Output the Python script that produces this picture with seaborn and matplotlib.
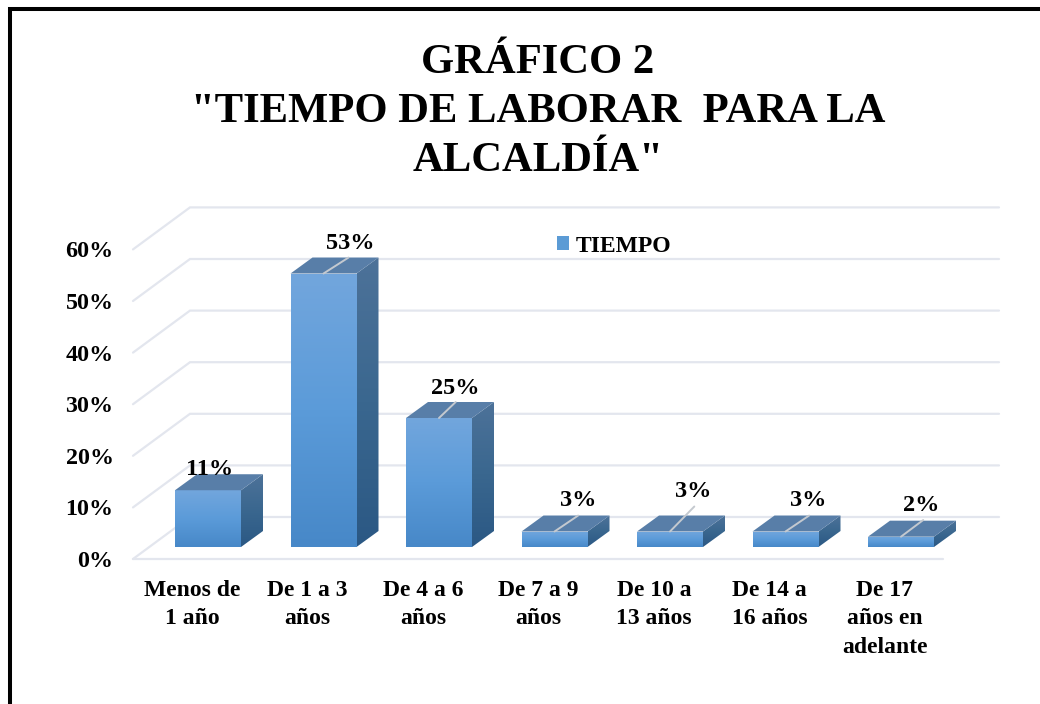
import numpy as np
import seaborn as sns
import matplotlib.pyplot as plt
from matplotlib.colors import LinearSegmentedColormap
from matplotlib.lines import Line2D
from matplotlib.patches import Polygon

categories = [
    "Menos de\n1 año",
    "De 1 a 3\naños",
    "De 4 a 6\naños",
    "De 7 a 9\naños",
    "De 10 a\n13 años",
    "De 14 a\n16 años",
    "De 17\naños en\nadelante",
]
values = [11, 53, 25, 3, 3, 3, 2]
y_ticks = [0, 10, 20, 30, 40, 50, 60]
series_name = "TIEMPO"
title = 'GRÁFICO 2\n"TIEMPO DE LABORAR  PARA LA\nALCALDÍA"'

# label offsets from the top of each bar, in points
label_offsets = [(1, 15), (19.5, 21.5), (12, 21.5), (17, 22.5), (17, 28.5), (16, 22.5), (14.5, 22.5)]
# end of the small leader line on the bar top, in points (None = no line)
leader_ends = [None, (18, 11.5), (12, 11.5), (17, 11.5), (17.5, 18), (17, 11.5), (16, 12)]

sns.set_style("white")
plt.rcParams["font.family"] = ["Liberation Serif", "DejaVu Serif"]
plt.rcParams["font.weight"] = "bold"
plt.rcParams["text.color"] = "black"
plt.rcParams["xtick.color"] = "black"
plt.rcParams["ytick.color"] = "black"

W, H = 1040, 704
fig = plt.figure(figsize=(W / 100, H / 100), dpi=100)

# plot box in pixels of the picture
left, right, top, bottom = 133, 999, 208, 559
ax = fig.add_axes([left / W, 1 - bottom / H, (right - left) / W, (bottom - top) / H])

px_x = 115.5  # pixels per category
px_y = 5.16  # pixels per percent
xlim = ((left - 208) / px_x, (right - 208) / px_x)
ylim = ((547 - bottom) / px_y, (547 - top) / px_y)

sns.barplot(
    x=list(range(len(values))),
    y=values,
    native_scale=True,
    width=66 / px_x,
    color="#5b9bd5",
    saturation=1,
    linewidth=0,
    label=series_name,
    ax=ax,
    zorder=3,
)

# walls of the fake 3D box
wall_front = (547 - bottom) / px_y
wall_back = (547 - 517) / px_y
back_x0 = (190 - 208) / px_x
front_x1 = (943 - 208) / px_x
grid_color = "#e3e6ee"
for v in y_ticks:
    ax.plot(
        [xlim[0], back_x0, xlim[1]],
        [v + wall_front, v + wall_back, v + wall_back],
        color=grid_color,
        lw=1.6,
        zorder=1,
        solid_joinstyle="miter",
        clip_on=False,
    )
ax.plot(
    [xlim[0], front_x1],
    [wall_front, wall_front],
    color=grid_color,
    lw=1.6,
    zorder=1,
    clip_on=False,
)

front_cmap = LinearSegmentedColormap.from_list("front", ["#72a6dd", "#5b9bd9", "#4788c8"])
side_cmap = LinearSegmentedColormap.from_list("side", ["#4d7299", "#3a678f", "#2b5884"])
gradient = np.linspace(0, 1, 128)[:, None]
depth_x = 22 / px_x
depth_y = 16 / px_y


def fill_gradient(patch, cmap, extent, zorder):
    ax.add_patch(patch)
    im = ax.imshow(gradient, extent=extent, cmap=cmap, aspect="auto", zorder=zorder)
    im.set_clip_path(patch)


for bar in list(ax.patches):
    x0 = bar.get_x()
    x1 = x0 + bar.get_width()
    h = bar.get_height()

    front = Polygon([(x0, 0), (x1, 0), (x1, h), (x0, h)], fc="none", ec="none")
    fill_gradient(front, front_cmap, (x0, x1, 0, h), 4)

    side = Polygon(
        [(x1, 0), (x1 + depth_x, depth_y), (x1 + depth_x, h + depth_y), (x1, h)],
        fc="none",
        ec="none",
    )
    fill_gradient(side, side_cmap, (x1, x1 + depth_x, 0, h + depth_y), 4)

    ax.add_patch(
        Polygon(
            [
                (x0, h),
                (x1, h),
                (x1 + depth_x, h + depth_y),
                (x0 + depth_x, h + depth_y),
            ],
            fc="#587ea8",
            ec="none",
            zorder=4,
        )
    )

ax.set_xlim(*xlim)
ax.set_ylim(*ylim)

for i, v in enumerate(values):
    if leader_ends[i] is not None:
        ax.annotate(
            "",
            xy=(i, v),
            xytext=leader_ends[i],
            textcoords="offset points",
            arrowprops=dict(arrowstyle="-", color="#c4c9cf", lw=1.4, shrinkA=0, shrinkB=0),
            zorder=5,
        )
    ax.annotate(
        f"{v}%",
        xy=(i, v),
        xytext=label_offsets[i],
        textcoords="offset points",
        ha="center",
        va="center",
        fontsize=17.5,
        fontweight="bold",
        color="black",
        zorder=6,
    )

# axis labels sit a bit left of the bars, as in the original
ax.set_xticks([i - 16 / px_x for i in range(len(categories))])
ax.set_xticklabels(categories, fontsize=17, fontweight="bold", linespacing=1.45)
ax.set_yticks([v + wall_front for v in y_ticks])
ax.set_yticklabels([f"{v}%" for v in y_ticks], fontsize=17.3, fontweight="bold")
ax.tick_params(axis="x", length=0, pad=15.3)
ax.tick_params(axis="y", length=0, pad=14)
sns.despine(ax=ax, left=True, bottom=True, top=True, right=True)
ax.patch.set_alpha(0)

ax.legend(
    loc="center left",
    bbox_to_anchor=((557 - left) / (right - left), (559 - 246) / (bottom - top)),
    frameon=False,
    fontsize=17,
    handlelength=0.5,
    handleheight=0.5,
    handletextpad=0.28,
    borderpad=0,
    borderaxespad=0,
)

fig.text(
    538 / W,
    1 - 112 / H,
    title,
    ha="center",
    va="center",
    fontsize=30.7,
    fontweight="bold",
    linespacing=1.385,
)

# black frame, only left and top edges fall inside the crop
fig.add_artist(Line2D([10 / W, 10 / W, 1], [0, 1 - 9 / H, 1 - 9 / H], color="black", lw=2.9,
                      solid_joinstyle="miter", solid_capstyle="butt"))

fig.savefig("out.png", dpi=100)
